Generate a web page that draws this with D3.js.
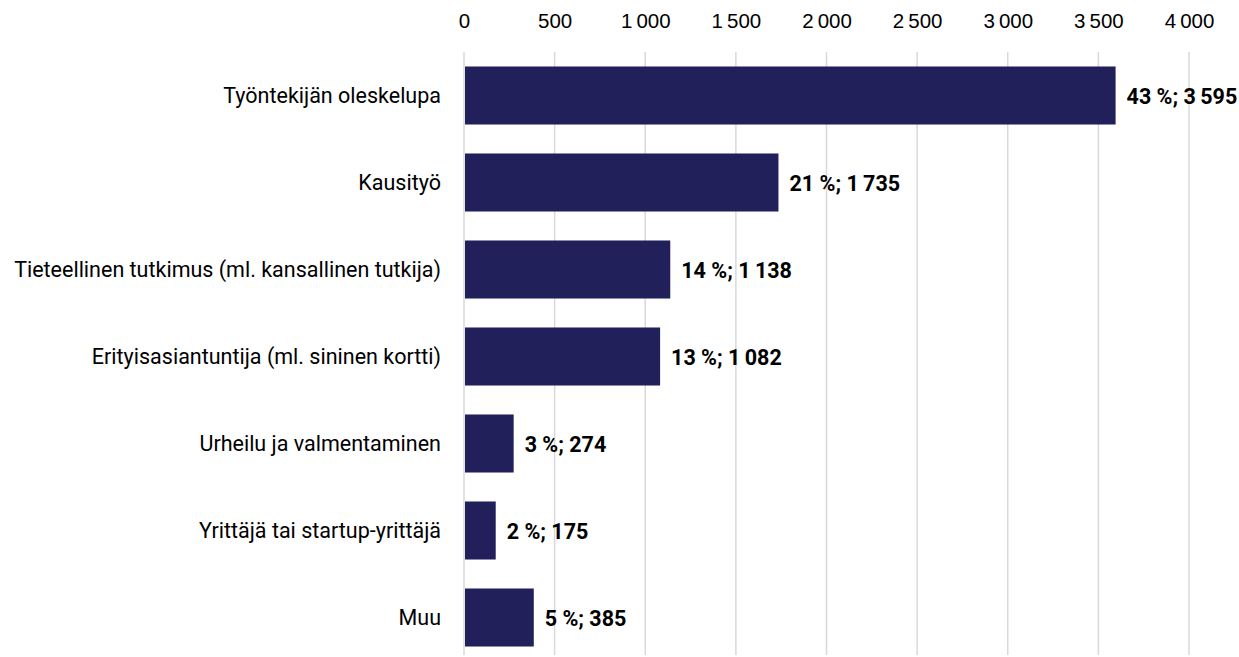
<!DOCTYPE html>
<meta charset="utf-8">
<script src="https://d3js.org/d3.v7.min.js"></script>
<style>
  body { margin: 0; background: #fff; }
</style>
<div id="my_dataviz"></div>
<script>

// categories, values and percent shares
var categories = ["Työntekijän oleskelupa", "Kausityö", "Tieteellinen tutkimus (ml. kansallinen tutkija)",
  "Erityisasiantuntija (ml. sininen kortti)", "Urheilu ja valmentaminen", "Yrittäjä tai startup-yrittäjä", "Muu"]
var values = [3595, 1735, 1138, 1082, 274, 175, 385]
var shares = [43, 21, 14, 13, 3, 2, 5]
var ticks = [0, 500, 1000, 1500, 2000, 2500, 3000, 3500, 4000]

var margin = {top: 52, right: 50, bottom: -4, left: 464},
    width = 1239 - margin.left - margin.right,
    height = 657 - margin.top - margin.bottom;

var svg = d3.select("#my_dataviz")
  .append("svg")
    .attr("width", 1239)
    .attr("height", 657)
  .append("g")
    .attr("transform", "translate(" + margin.left + "," + margin.top + ")");

// thousands with a thin space, like the original
var fmt = function(v) { return d3.format(",")(v).replace(/,/g, "\u2009"); }

var x = d3.scaleLinear()
  .domain([0, 4000])
  .range([0, 725]);

var y = d3.scaleBand()
  .domain(categories)
  .range([0, 609])
  .paddingInner(0.333)
  .paddingOuter(0.1665);

// gridlines
svg.append("g")
  .selectAll("line")
  .data(ticks)
  .enter()
  .append("line")
    .attr("x1", function(d) { return x(d); })
    .attr("x2", function(d) { return x(d); })
    .attr("y1", 0)
    .attr("y2", 603)
    .style("stroke", "#d9d9d9")
    .style("stroke-width", 1.5)

// top axis labels
var xAxis = svg.append("g")
  .call(d3.axisTop(x).tickValues(ticks).tickFormat(fmt).tickSize(0).tickPadding(24.5))
xAxis.select(".domain").remove()
xAxis.selectAll("text")
  .style("font-family", "Liberation Sans, Arial, sans-serif")
  .style("font-size", "20.5px")
  .style("fill", "#000")

// bars
svg.append("g")
  .selectAll("rect")
  .data(values)
  .enter()
  .append("rect")
    .attr("x", 1)
    .attr("y", function(d, i) { return y(categories[i]); })
    .attr("width", function(d) { return x(d) - 1; })
    .attr("height", y.bandwidth())
    .style("fill", "#22205a")

// value labels
svg.append("g")
  .selectAll("text")
  .data(values)
  .enter()
  .append("text")
    .attr("x", function(d) { return x(d) + 11; })
    .attr("y", function(d, i) { return y(categories[i]) + y.bandwidth() / 2; })
    .attr("dy", "0.4em")
    .style("font-family", "Roboto, sans-serif")
    .style("font-weight", "bold")
    .style("font-size", "21.5px")
    .text(function(d, i) { return shares[i] + " %; " + fmt(d); })

// category labels
svg.append("g")
  .selectAll("text")
  .data(categories)
  .enter()
  .append("text")
    .attr("x", -23)
    .attr("y", function(d) { return y(d) + y.bandwidth() / 2; })
    .attr("dy", "0.36em")
    .attr("text-anchor", "end")
    .style("font-family", "Roboto, sans-serif")
    .style("font-size", "21.5px")
    .text(function(d) { return d; })

</script>
